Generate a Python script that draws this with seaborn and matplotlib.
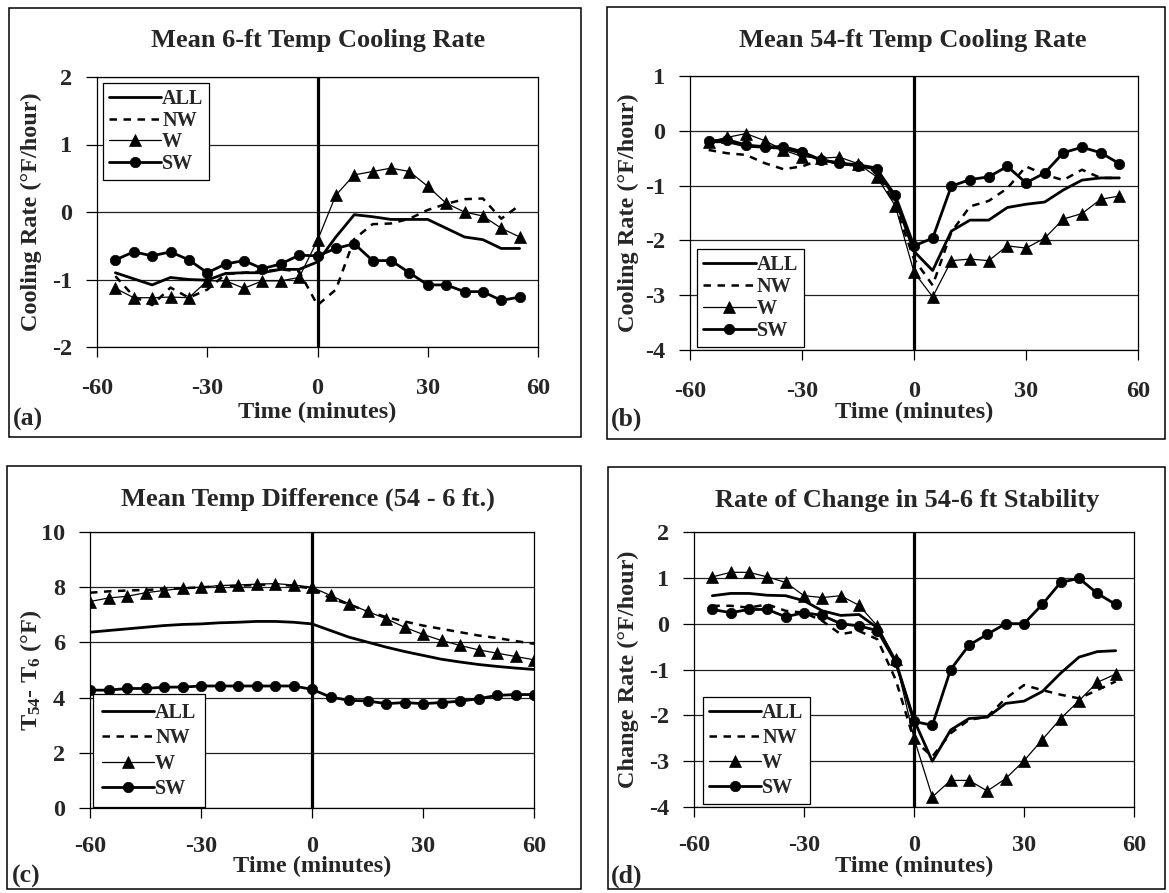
import numpy as np
import pandas as pd
import matplotlib
matplotlib.use("Agg")
import matplotlib.pyplot as plt
import seaborn as sns
from matplotlib.patches import Rectangle

# ---------------- data ----------------
time_ab = [-55, -50, -45, -40, -35, -30, -25, -20, -15, -10, -5, 0,
           5, 10, 15, 20, 25, 30, 35, 40, 45, 50, 55]
time_c = [-60, -55, -50, -45, -40, -35, -30, -25, -20, -15, -10, -5, 0,
          5, 10, 15, 20, 25, 30, 35, 40, 45, 50, 55, 60]
time_d = time_ab

# (a) Mean 6-ft Temp Cooling Rate
a_all = [-0.90, -0.99, -1.08, -0.97, -1.00, -1.01, -0.91, -0.90, -0.90, -0.85, -0.85, -0.74,
         -0.37, -0.04, -0.07, -0.11, -0.11, -0.11, -0.24, -0.37, -0.41, -0.54, -0.54]
a_nw = [-0.95, -1.25, -1.38, -1.12, -1.27, -1.15, -0.92, -0.90, -0.88, -0.85, -0.88, -1.38,
        -1.15, -0.40, -0.18, -0.17, -0.10, 0.03, 0.12, 0.19, 0.20, -0.10, 0.10]
a_w = [-1.13, -1.27, -1.27, -1.26, -1.27, -1.02, -1.02, -1.13, -1.02, -1.02, -0.97, -0.42,
       0.25, 0.55, 0.60, 0.65, 0.60, 0.38, 0.13, 0.00, -0.06, -0.24, -0.37]
a_sw = [-0.71, -0.59, -0.65, -0.59, -0.71, -0.90, -0.77, -0.72, -0.84, -0.77, -0.64, -0.65,
        -0.54, -0.47, -0.72, -0.72, -0.90, -1.08, -1.08, -1.18, -1.18, -1.31, -1.26]

# (b) Mean 54-ft Temp Cooling Rate
b_all = [-0.20, -0.20, -0.28, -0.30, -0.32, -0.41, -0.53, -0.59, -0.62, -0.68, -1.25, -2.20,
         -2.55, -1.83, -1.63, -1.63, -1.40, -1.34, -1.30, -1.08, -0.90, -0.86, -0.86]
b_nw = [-0.35, -0.41, -0.44, -0.59, -0.70, -0.65, -0.53, -0.60, -0.64, -0.74, -1.37, -2.34,
        -2.82, -1.85, -1.38, -1.28, -1.05, -0.65, -0.80, -0.90, -0.71, -0.86, -0.86]
b_w = [-0.20, -0.12, -0.05, -0.18, -0.35, -0.47, -0.50, -0.48, -0.60, -0.84, -1.37, -2.58,
       -3.03, -2.37, -2.34, -2.37, -2.10, -2.14, -1.96, -1.61, -1.51, -1.25, -1.19]
b_sw = [-0.19, -0.16, -0.26, -0.29, -0.29, -0.38, -0.53, -0.59, -0.64, -0.70, -1.18, -2.10,
        -1.96, -1.01, -0.89, -0.84, -0.65, -0.95, -0.77, -0.40, -0.30, -0.40, -0.60]

# (c) Mean Temp Difference (54 - 6 ft.)
c_all = [6.37, 6.43, 6.49, 6.55, 6.61, 6.65, 6.67, 6.71, 6.73, 6.76, 6.76, 6.73, 6.67,
         6.43, 6.19, 6.01, 5.83, 5.67, 5.53, 5.39, 5.29, 5.20, 5.13, 5.07, 5.02]
c_nw = [7.80, 7.85, 7.88, 7.90, 7.93, 7.96, 8.00, 8.03, 8.05, 8.08, 8.10, 8.05, 7.95,
        7.60, 7.38, 7.12, 6.92, 6.76, 6.61, 6.49, 6.37, 6.25, 6.16, 6.05, 5.95]
c_w = [7.48, 7.61, 7.67, 7.80, 7.88, 7.96, 8.00, 8.06, 8.08, 8.11, 8.13, 8.08, 8.00,
       7.70, 7.40, 7.12, 6.86, 6.55, 6.29, 6.07, 5.89, 5.73, 5.61, 5.49, 5.37]
c_sw = [4.27, 4.27, 4.33, 4.33, 4.38, 4.38, 4.42, 4.42, 4.42, 4.42, 4.42, 4.42, 4.30,
        4.02, 3.90, 3.88, 3.78, 3.82, 3.78, 3.82, 3.87, 3.96, 4.08, 4.11, 4.11]

# (d) Rate of Change in 54-6 ft Stability
d_all = [0.61, 0.66, 0.66, 0.62, 0.61, 0.50, 0.28, 0.18, 0.20, -0.09, -0.82, -2.10,
         -3.00, -2.32, -2.07, -2.04, -1.74, -1.69, -1.48, -1.08, -0.73, -0.61, -0.59]
d_nw = [0.39, 0.39, 0.35, 0.42, 0.28, 0.24, 0.06, -0.23, -0.16, -0.34, -1.22, -2.54,
        -2.90, -2.39, -2.10, -2.03, -1.63, -1.34, -1.45, -1.55, -1.63, -1.45, -1.26]
d_w = [1.02, 1.12, 1.12, 1.02, 0.90, 0.61, 0.57, 0.61, 0.40, -0.05, -0.78, -2.50,
       -3.78, -3.42, -3.42, -3.65, -3.38, -2.99, -2.53, -2.07, -1.68, -1.28, -1.10]
d_sw = [0.31, 0.24, 0.31, 0.31, 0.15, 0.24, 0.18, 0.00, -0.05, -0.15, -0.84, -2.13,
        -2.22, -1.00, -0.47, -0.23, 0.00, 0.00, 0.42, 0.90, 0.99, 0.66, 0.42]

series_names = ["ALL", "NW", "W", "SW"]
x_ticks = [-60, -30, 0, 30, 60]

titles = ["Mean 6-ft Temp Cooling Rate", "Mean 54-ft Temp Cooling Rate",
          "Mean Temp Difference (54 - 6 ft.)", "Rate of Change in 54-6 ft Stability"]
ylabels = ["Cooling Rate (\u00b0F/hour)", "Cooling Rate (\u00b0F/hour)",
           "T$_{54}$- T$_{6}$ (\u00b0F)", "Change Rate (\u00b0F/hour)"]
xlabel = "Time (minutes)"
panel_tags = ["(a)", "(b)", "(c)", "(d)"]

# ---------------- style ----------------
sns.set_theme(style="white")
plt.rcParams["font.family"] = ["Liberation Serif", "DejaVu Serif"]
plt.rcParams["font.weight"] = "bold"
plt.rcParams["axes.unicode_minus"] = False
plt.rcParams["mathtext.fontset"] = "custom"
plt.rcParams["mathtext.rm"] = "Liberation Serif:bold"
plt.rcParams["mathtext.it"] = "Liberation Serif:italic:bold"
plt.rcParams["mathtext.bf"] = "Liberation Serif:bold"
plt.rcParams["mathtext.default"] = "regular"

W, H = 1169, 893
fig = plt.figure(figsize=(W / 100, H / 100), dpi=100)
fig.patch.set_facecolor("white")

TITLE_FS = 19
TICK_FS = 17.5
LABEL_FS = 17.5
LEG_FS = 14.5
TAG_FS = 18.5


def add_axes_px(x0, y0, x1, y1):
    return fig.add_axes([x0 / W, 1 - y1 / H, (x1 - x0) / W, (y1 - y0) / H])


def add_frame_px(x0, y0, x1, y1):
    fig.patches.append(Rectangle((x0 / W, 1 - y1 / H), (x1 - x0) / W, (y1 - y0) / H,
                                 transform=fig.transFigure, fill=False,
                                 edgecolor="black", linewidth=1.1, zorder=0))


styles = {
    "ALL": dict(linewidth=2.0, linestyle="-", marker=None),
    "NW": dict(linewidth=1.8, linestyle=(0, (3, 2.6)), marker=None),
    "W": dict(linewidth=0.9, linestyle="-", marker="^", markersize=8),
    "SW": dict(linewidth=2.0, linestyle="-", marker="o", markersize=7.5),
}

panels = [
    dict(box=(97, 77, 538, 347), frame=(9, 8, 581, 437), t=time_ab,
         data=[a_all, a_nw, a_w, a_sw], ylim=(-2, 2), yticks=[-2, -1, 0, 1, 2],
         title_xy=(318, 40), xlabel_y=412, ylabel_x=31, tag_xy=(13, 419), xpad=15,
         leg=dict(loc="upper left", anchor=(0.013, 0.978), ls=0.08, bp=0.3)),
    dict(box=(690, 76, 1138, 350), frame=(607, 7, 1165, 439), t=time_ab,
         data=[b_all, b_nw, b_w, b_sw], ylim=(-4, 1), yticks=[-4, -3, -2, -1, 0, 1],
         title_xy=(913, 41), xlabel_y=412, ylabel_x=628, tag_xy=(611, 419), xpad=15,
         leg=dict(loc="lower left", anchor=(0.016, 0.011), ls=0.1, bp=0.3)),
    dict(box=(90, 532, 534, 808), frame=(7, 466, 581, 889), t=time_c,
         data=[c_all, c_nw, c_w, c_sw], ylim=(0, 10), yticks=[0, 2, 4, 6, 8, 10],
         title_xy=(308, 499), xlabel_y=866, ylabel_x=31, tag_xy=(12, 876), xpad=13,
         leg=dict(loc="lower left", anchor=(0.0075, 0.002), ls=0.27, bp=0.42)),
    dict(box=(694, 532, 1134, 807), frame=(608, 467, 1165, 889), t=time_d,
         data=[d_all, d_nw, d_w, d_sw], ylim=(-4, 2), yticks=[-4, -3, -2, -1, 0, 1, 2],
         title_xy=(907, 500), xlabel_y=866, ylabel_x=628, tag_xy=(611, 876), xpad=13,
         leg=dict(loc="lower left", anchor=(0.02, 0.012), ls=0.24, bp=0.3)),
]

for i, p in enumerate(panels):
    add_frame_px(*p["frame"])
    ax = add_axes_px(*p["box"])
    ax.set_facecolor("white")

    for name, vals in zip(series_names, p["data"]):
        st = styles[name]
        kw = dict(color="black", linewidth=st["linewidth"], linestyle=st["linestyle"],
                  label=name, errorbar=None, sort=False)
        if st["marker"]:
            kw.update(marker=st["marker"], markersize=st["markersize"],
                      markeredgecolor="black", markerfacecolor="black",
                      markeredgewidth=0.5)
        sns.lineplot(x=p["t"], y=vals, ax=ax, zorder=3, **kw)

    ax.axvline(0, color="black", linewidth=2.3, zorder=4)

    ax.set_xlim(-60, 60)
    ax.set_ylim(*p["ylim"])
    ax.set_xticks(x_ticks)
    ax.set_yticks(p["yticks"])
    ax.yaxis.grid(True, color="#222222", linewidth=0.9)
    ax.xaxis.grid(False)
    ax.set_axisbelow(True)
    for sp in ax.spines.values():
        sp.set_visible(True)
        sp.set_color("black")
        sp.set_linewidth(0.9)

    ax.tick_params(axis="x", direction="out", length=7, width=0.9, color="black",
                   pad=p["xpad"], labelsize=TICK_FS, bottom=True)
    ax.tick_params(axis="y", direction="out", length=8, width=0.9, color="black",
                   pad=10, labelsize=TICK_FS, left=True)
    for lab in ax.get_xticklabels() + ax.get_yticklabels():
        lab.set_fontweight("bold")

    x0, y0, x1, y1 = p["box"]
    ax.set_xlabel(xlabel, fontsize=LABEL_FS, fontweight="bold")
    ax.xaxis.label.set_va("center")
    ax.xaxis.set_label_coords(0.5, (y1 - p["xlabel_y"]) / (y1 - y0))
    ax.set_ylabel(ylabels[i], fontsize=LABEL_FS, fontweight="bold")
    ax.yaxis.label.set_va("center")
    ax.yaxis.set_label_coords((p["ylabel_x"] - x0) / (x1 - x0), 0.5)

    fig.text(p["title_xy"][0] / W, 1 - p["title_xy"][1] / H, titles[i],
             ha="center", va="center", fontsize=TITLE_FS, fontweight="bold")
    fig.text(p["tag_xy"][0] / W, 1 - p["tag_xy"][1] / H, panel_tags[i],
             ha="left", va="center", fontsize=TAG_FS, fontweight="bold")

    lg = p["leg"]
    leg = ax.legend(loc=lg["loc"], bbox_to_anchor=lg["anchor"],
                    frameon=True, fancybox=False, edgecolor="black", framealpha=1,
                    prop=dict(size=LEG_FS, weight="bold"), handlelength=2.6,
                    handletextpad=0.05, labelspacing=lg["ls"], borderpad=lg["bp"],
                    borderaxespad=0.0)
    leg.get_frame().set_linewidth(0.9)
    leg.set_zorder(6)

fig.savefig("out.png", dpi=100, facecolor="white")
